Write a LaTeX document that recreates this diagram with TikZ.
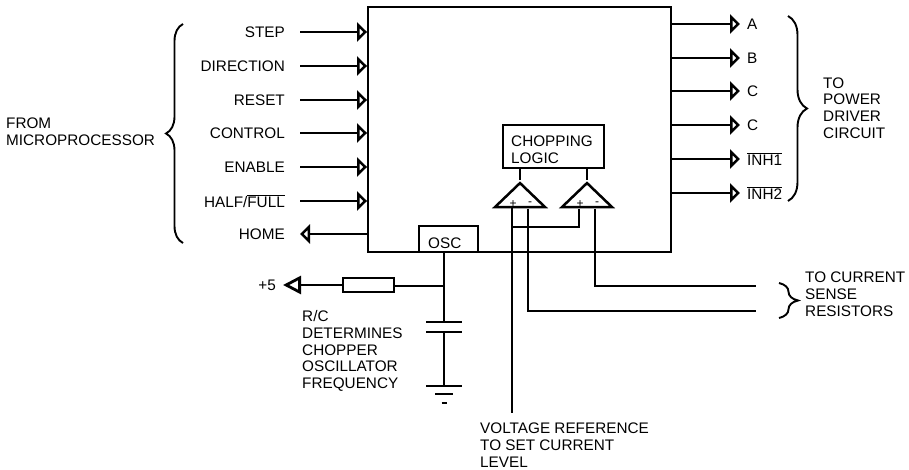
\documentclass[tikz,border=0pt]{standalone}
\usepackage{fontspec}
\setmainfont{Liberation Sans}
\usepackage{tikz}
\usetikzlibrary{arrows.meta,positioning,calc,shapes.geometric,decorations.pathreplacing}
\newcommand{\barred}[1]{$\overline{\mbox{#1}}$}
\tikzset{
  wire/.style={line width=1.9pt},
  inarrow/.style={wire, -{Triangle[open,length=10pt,width=19pt,line width=2.6pt]}},
  bigarrow/.style={wire, -{Triangle[open,length=18pt,width=18pt,line width=2.8pt]}},
  block/.style={draw, line width=1.9pt, inner sep=0pt},
  comparator/.style={draw, line width=2.5pt, shape=isosceles triangle, shape border rotate=90,
    isosceles triangle stretches, minimum width=50pt, minimum height=24pt, inner sep=0pt},
  label/.style={inner sep=0pt, align=left, font=\fontsize{15.3}{16.8}\selectfont},
  pin/.style={inner sep=0pt, font=\fontsize{12}{12}\selectfont},
  curly/.style={line width=1.9pt, decorate, decoration={brace,amplitude=#1}},
}
\begin{document}
\begin{tikzpicture}[x=1pt,y=-1pt]
\useasboundingbox (0,0) rectangle (909,470);
% main chip
\node[block, minimum width=303pt, minimum height=245pt] (chip) at (519.5,129.5) {};
\node[block, minimum width=101pt, minimum height=43pt] (logic) at (553.5,146.5) {};
\node[label, anchor=west] (logictext) at (511,150) {CHOPPING\\LOGIC};
\node[block, minimum width=59pt, minimum height=26pt] (osc) at (448.5,239) {};
\node[label, anchor=west] (osctext) at (428,243) {OSC};
% inputs
\foreach \signal/\row/\ypos in {STEP/0/32,DIRECTION/1/66,RESET/2/100,CONTROL/3/133,ENABLE/4/167,{HALF/\barred{FULL}}/5/201}{
  \node[label, anchor=east] (in\row) at (285,\ypos) {\signal};
  \coordinate (instart\row) at (300,\ypos);
  \draw[inarrow] (instart\row) -- (instart\row -| chip.west);
}
\node[label, anchor=east] (home) at (285,234) {HOME};
\coordinate (homeend) at (300,234);
\draw[inarrow] (homeend -| chip.west) -- (homeend);
% outputs
\foreach \signal/\row/\ypos in {A/0/24,B/1/58,C/2/91,C/3/125,\barred{INH1}/4/159,\barred{INH2}/5/193}{
  \node[label, anchor=west] (out\row) at (747,\ypos) {\signal};
  \coordinate (outend\row) at (740,\ypos);
  \draw[inarrow] (outend\row -| chip.east) -- (outend\row);
}
% comparators
\node[comparator] (cmpa) at (520,197) {};
\node[comparator] (cmpb) at (587,197) {};
\draw[wire] (logic.south -| cmpa.apex) -- (cmpa.apex);
\draw[wire] (logic.south -| cmpb.apex) -- (cmpb.apex);
\node[pin] (plusa) at (513,204) {+};
\node[pin] (minusa) at (530,204) {-};
\node[pin] (plusb) at (580,204) {+};
\node[pin] (minusb) at (597,204) {-};
% sense and reference wires
\coordinate (refend) at (512,413);
\coordinate (sensea) at (756,311);
\coordinate (senseb) at (756,286);
\draw[wire] (refend |- cmpa.south) -- (refend);
\draw[wire] (528,209) |- (sensea);
\draw[wire] (595,209) |- (senseb);
\draw[wire] (579,209) |- (512,227);
% oscillator network
\coordinate (rcnode) at (444,286);
\coordinate (capa) at (444,322);
\coordinate (capb) at (444,332);
\coordinate (gnd) at (444,386);
\node[block, minimum width=51pt, minimum height=14pt] (res) at (368.5,285) {};
\node[label, anchor=east] (plusfive) at (276,285) {+5};
\coordinate (fiveend) at (283,285);
\draw[wire] (osc.south -| rcnode) -- (capa);
\draw[wire] (rcnode) -- (res.east |- rcnode);
\draw[bigarrow] (res.west) -- (fiveend);
\draw[wire] (capb) -- (gnd);
\draw[wire] ($(capa)+(-18,0)$) -- ($(capa)+(18,0)$);
\draw[wire] ($(capb)+(-18,0)$) -- ($(capb)+(18,0)$);
\draw[wire] ($(gnd)+(-18,0)$) -- ($(gnd)+(18,0)$);
\draw[wire] ($(gnd)+(-9,8)$) -- ($(gnd)+(9,8)$);
\draw[wire] ($(gnd)+(-2.5,17)$) -- ($(gnd)+(2.5,17)$);
% braces
\draw[curly=17pt] (183,243) -- (183,24);
\draw[curly=19pt] (788,16) -- (788,201);
\draw[curly=19pt] (779,283) -- (779,318);
% notes
\node[label, anchor=west] (fromnote) at (6,132) {FROM\\MICROPROCESSOR};
\node[label, anchor=west] (tonote) at (823,108) {TO\\POWER\\DRIVER\\CIRCUIT};
\node[label, anchor=west] (sensenote) at (805,294) {TO CURRENT\\SENSE\\RESISTORS};
\node[label, anchor=west] (rcnote) at (302,351) {R/C\\DETERMINES\\CHOPPER\\OSCILLATOR\\FREQUENCY};
\node[label, anchor=west] (refnote) at (480,445) {VOLTAGE REFERENCE\\TO SET CURRENT\\LEVEL};
\end{tikzpicture}
\end{document}
